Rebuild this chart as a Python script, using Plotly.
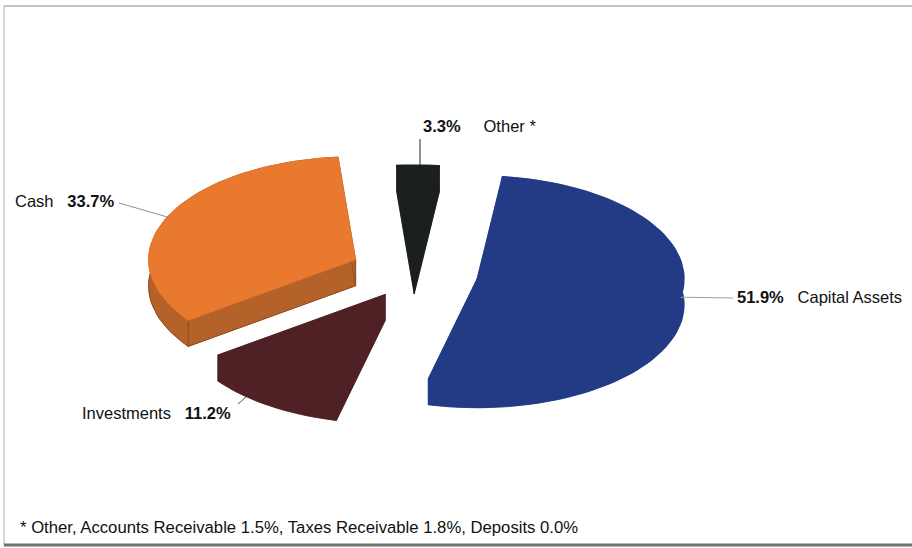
import math
import plotly.graph_objects as go

# ---- data -------------------------------------------------------------
labels = ["Capital Assets", "Investments", "Cash", "Other *"]
values = [51.9, 11.2, 33.7, 3.3]
footnote = "* Other, Accounts Receivable 1.5%, Taxes Receivable 1.8%, Deposits 0.0%"

# ---- styling ----------------------------------------------------------
top_colors = ["#233a84", "#4f2024", "#e8792e", "#1b1f1d"]
side_colors = ["#233a84", "#4f2024", "#b5622a", "#1b1f1d"]
pulls = [0.31, 0.25, 0.31, 0.05]
start_angle = 7.0            # degrees clockwise from 12 o'clock
cx, cy = 414.0, 273.0        # pie centre (pixel-like plot units, y down)
rx, ry = 207.0, 103.0        # tilted-ellipse radii
depth = 26.0                 # slab thickness
FONT = "Liberation Sans, Arial, sans-serif"
FS = 16.5


def ell(ax, ay, ang, scale=1.0):
    a = math.radians(ang)
    return ax + scale * rx * math.sin(a), ay - scale * ry * math.cos(a)


total = sum(values)
slices = []
ang = start_angle
for lab, v, pull in zip(labels, values, pulls):
    span = 360.0 * v / total
    a0, a1 = ang, ang + span
    mid = (a0 + a1) / 2
    ax, ay = ell(cx, cy, mid, pull)
    n = max(6, int(span / 2))
    arc = [ell(ax, ay, a0 + span * k / n) for k in range(n + 1)]
    slices.append(dict(label=lab, value=v, apex=(ax, ay), arc=arc, mid=mid,
                       anchor=ell(ax, ay, mid)))
    ang = a1

fig = go.Figure()


def add_poly(pts, fill, line_col=None, lw=0.0, name=None):
    xs = [p[0] for p in pts] + [pts[0][0]]
    ys = [p[1] for p in pts] + [pts[0][1]]
    fig.add_trace(go.Scatter(
        x=xs, y=ys, mode="lines", fill="toself", fillcolor=fill,
        line=dict(color=line_col or fill, width=lw),
        hoverinfo="name" if name else "skip", name=name or "",
        showlegend=False))


# back-to-front drawing order
order = [3, 2, 0, 1]
for i in order:
    s = slices[i]
    apex = s["apex"]
    arc = s["arc"]
    side = side_colors[i]
    edge = "#8c4a1c" if side != top_colors[i] else side
    lw = 0.8 if side != top_colors[i] else 0.6
    down = lambda p: (p[0], p[1] + depth)
    top_poly = [apex] + arc
    # bottom face
    add_poly([down(p) for p in top_poly], side, edge, lw)
    # radial walls
    add_poly([apex, arc[0], down(arc[0]), down(apex)], side, edge, lw)
    add_poly([apex, arc[-1], down(arc[-1]), down(apex)], side, edge, lw)
    # outer curved wall
    add_poly(arc + [down(p) for p in reversed(arc)], side, edge, lw)
    # top face
    add_poly(top_poly, top_colors[i], top_colors[i], 0.8, name=s["label"])

# ---- labels and leader lines -----------------------------------------
label_specs = {
    "Capital Assets": dict(tx=735, ty=297, xanchor="left",
                           fmt="<b>{v:.1f}%</b>   {l}", lead=(733, 298), col="#9aa0a0"),
    "Investments": dict(tx=233, ty=413, xanchor="right",
                        fmt="{l}   <b>{v:.1f}%</b>", lead=(238, 404), col="#555555"),
    "Cash": dict(tx=116, ty=201, xanchor="right",
                 fmt="{l}   <b>{v:.1f}%</b>", lead=(119, 203), col="#8a9494"),
    "Other *": dict(tx=421, ty=126, xanchor="left",
                    fmt="<b>{v:.1f}%</b>     {l}", lead=(420, 139), col="#222222"),
}

for s in slices:
    spec = label_specs[s["label"]]
    axp, ayp = s["anchor"]
    if s["label"] == "Investments":
        axp, ayp = 246, 397
    if s["label"] == "Other *":
        axp = spec["lead"][0]
    fig.add_trace(go.Scatter(x=[spec["lead"][0], axp], y=[spec["lead"][1], ayp],
                             mode="lines", line=dict(color=spec["col"], width=1),
                             hoverinfo="skip", showlegend=False))
    fig.add_annotation(x=spec["tx"], y=spec["ty"], xref="x", yref="y",
                       text=spec["fmt"].format(v=s["value"], l=s["label"]),
                       showarrow=False, xanchor=spec["xanchor"], yanchor="middle",
                       font=dict(family=FONT, size=FS, color="#111111"))

fig.add_annotation(x=18, y=527, xref="x", yref="y", text=footnote,
                   showarrow=False, xanchor="left", yanchor="middle",
                   font=dict(family=FONT, size=16.7, color="#111111"))

# ---- frame ------------------------------------------------------------
fig.add_shape(type="line", xref="x", yref="y", x0=4, x1=912, y0=6, y1=6,
              line=dict(color="#b9c9c9", width=2))
fig.add_shape(type="line", xref="x", yref="y", x0=4, x1=4, y0=6, y1=545,
              line=dict(color="#c8cccc", width=1.5))
fig.add_shape(type="line", xref="x", yref="y", x0=4, x1=912, y0=545, y1=545,
              line=dict(color="#6d7373", width=3))

fig.update_layout(
    width=912, height=548, autosize=False,
    margin=dict(l=0, r=0, t=0, b=0),
    paper_bgcolor="white", plot_bgcolor="white",
    xaxis=dict(range=[0, 912], visible=False, fixedrange=True),
    yaxis=dict(range=[548, 0], visible=False, fixedrange=True),
    showlegend=False,
)

fig.write_html("out.html")
